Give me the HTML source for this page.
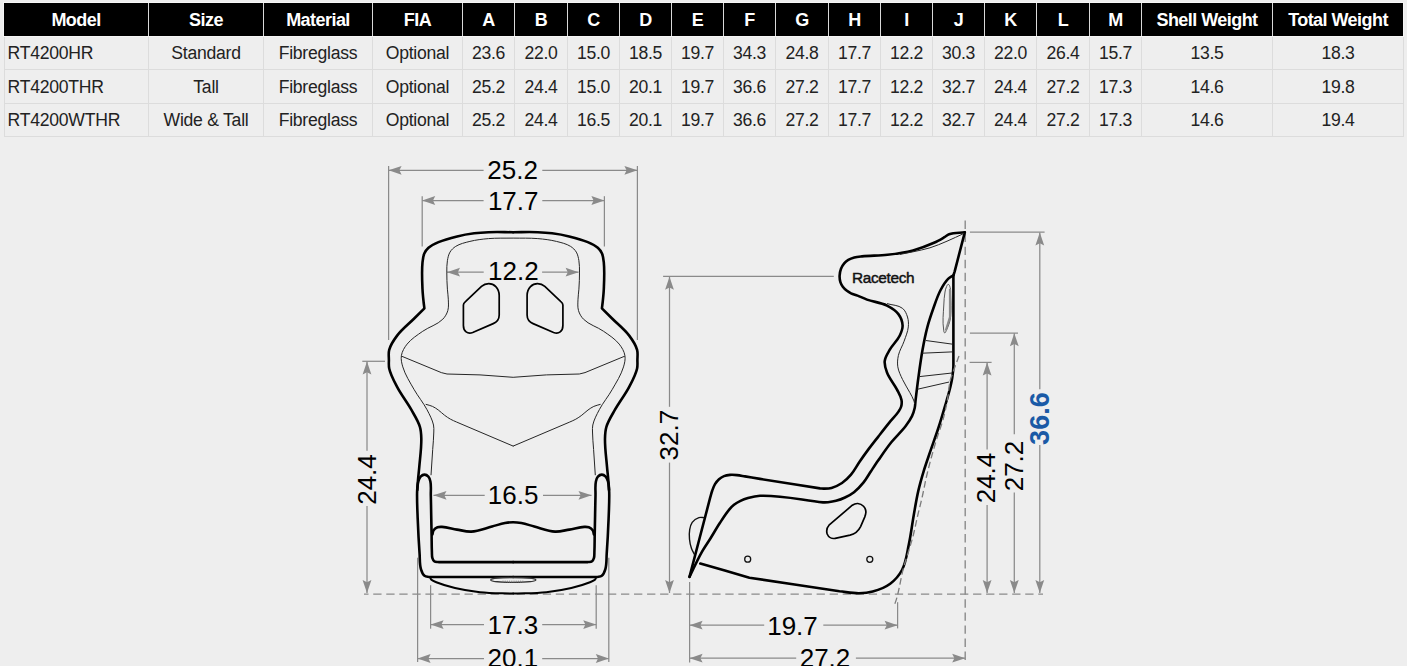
<!DOCTYPE html>
<html><head><meta charset="utf-8"><title>RT4200 Seat Dimensions</title>
<style>
html,body{margin:0;padding:0;}
body{width:1407px;height:666px;background:#eeeeee;position:relative;overflow:hidden;font-family:"Liberation Sans",sans-serif;}
.hb{position:absolute;background:#f6f6f6;}
.th{position:absolute;top:3px;height:33px;line-height:34px;text-align:center;color:#fff;font-weight:bold;font-size:18px;letter-spacing:-0.55px;white-space:nowrap;}
.td,.tdl{position:absolute;line-height:33px;text-align:center;color:#222;font-size:17.6px;letter-spacing:-0.25px;white-space:nowrap;}
.tdl{text-align:left;padding-left:2.6px;box-sizing:border-box;}
.vl{position:absolute;width:1px;background:#dcdcdc;}
.hl{position:absolute;height:1px;background:#dcdcdc;}
.draw{position:absolute;left:0;top:0;}
</style></head><body>
<div class="hb" style="left:3px;top:2px;width:1401px;height:35px"></div><div style="position:absolute;left:4px;top:3px;width:1399px;height:33px;background:#000"></div><div class="th" style="left:4px;width:144px">Model</div><div class="th" style="left:149px;width:114px">Size</div><div class="vl" style="left:148px;top:3px;height:33px;background:#d9d9d9"></div><div class="th" style="left:264px;width:108px">Material</div><div class="vl" style="left:263px;top:3px;height:33px;background:#d9d9d9"></div><div class="th" style="left:373px;width:89px">FIA</div><div class="vl" style="left:372px;top:3px;height:33px;background:#d9d9d9"></div><div class="th" style="left:463px;width:51px">A</div><div class="vl" style="left:462px;top:3px;height:33px;background:#d9d9d9"></div><div class="th" style="left:515px;width:52px">B</div><div class="vl" style="left:514px;top:3px;height:33px;background:#d9d9d9"></div><div class="th" style="left:568px;width:51px">C</div><div class="vl" style="left:567px;top:3px;height:33px;background:#d9d9d9"></div><div class="th" style="left:620px;width:51px">D</div><div class="vl" style="left:619px;top:3px;height:33px;background:#d9d9d9"></div><div class="th" style="left:672px;width:51px">E</div><div class="vl" style="left:671px;top:3px;height:33px;background:#d9d9d9"></div><div class="th" style="left:724px;width:51px">F</div><div class="vl" style="left:723px;top:3px;height:33px;background:#d9d9d9"></div><div class="th" style="left:776px;width:52px">G</div><div class="vl" style="left:775px;top:3px;height:33px;background:#d9d9d9"></div><div class="th" style="left:829px;width:51px">H</div><div class="vl" style="left:828px;top:3px;height:33px;background:#d9d9d9"></div><div class="th" style="left:881px;width:51px">I</div><div class="vl" style="left:880px;top:3px;height:33px;background:#d9d9d9"></div><div class="th" style="left:933px;width:51px">J</div><div class="vl" style="left:932px;top:3px;height:33px;background:#d9d9d9"></div><div class="th" style="left:985px;width:51px">K</div><div class="vl" style="left:984px;top:3px;height:33px;background:#d9d9d9"></div><div class="th" style="left:1037px;width:52px">L</div><div class="vl" style="left:1036px;top:3px;height:33px;background:#d9d9d9"></div><div class="th" style="left:1090px;width:51px">M</div><div class="vl" style="left:1089px;top:3px;height:33px;background:#d9d9d9"></div><div class="th" style="left:1142px;width:130px">Shell Weight</div><div class="vl" style="left:1141px;top:3px;height:33px;background:#d9d9d9"></div><div class="th" style="left:1273px;width:130px">Total Weight</div><div class="vl" style="left:1272px;top:3px;height:33px;background:#d9d9d9"></div><div class="tdl" style="left:5px;top:37px;width:143px;height:32px">RT4200HR</div><div class="td" style="left:149px;top:37px;width:114px;height:32px">Standard</div><div class="td" style="left:264px;top:37px;width:108px;height:32px">Fibreglass</div><div class="td" style="left:373px;top:37px;width:89px;height:32px">Optional</div><div class="td" style="left:463px;top:37px;width:51px;height:32px">23.6</div><div class="td" style="left:515px;top:37px;width:52px;height:32px">22.0</div><div class="td" style="left:568px;top:37px;width:51px;height:32px">15.0</div><div class="td" style="left:620px;top:37px;width:51px;height:32px">18.5</div><div class="td" style="left:672px;top:37px;width:51px;height:32px">19.7</div><div class="td" style="left:724px;top:37px;width:51px;height:32px">34.3</div><div class="td" style="left:776px;top:37px;width:52px;height:32px">24.8</div><div class="td" style="left:829px;top:37px;width:51px;height:32px">17.7</div><div class="td" style="left:881px;top:37px;width:51px;height:32px">12.2</div><div class="td" style="left:933px;top:37px;width:51px;height:32px">30.3</div><div class="td" style="left:985px;top:37px;width:51px;height:32px">22.0</div><div class="td" style="left:1037px;top:37px;width:52px;height:32px">26.4</div><div class="td" style="left:1090px;top:37px;width:51px;height:32px">15.7</div><div class="td" style="left:1142px;top:37px;width:130px;height:32px">13.5</div><div class="td" style="left:1273px;top:37px;width:130px;height:32px">18.3</div><div class="tdl" style="left:5px;top:71px;width:143px;height:33px">RT4200THR</div><div class="td" style="left:149px;top:71px;width:114px;height:33px">Tall</div><div class="td" style="left:264px;top:71px;width:108px;height:33px">Fibreglass</div><div class="td" style="left:373px;top:71px;width:89px;height:33px">Optional</div><div class="td" style="left:463px;top:71px;width:51px;height:33px">25.2</div><div class="td" style="left:515px;top:71px;width:52px;height:33px">24.4</div><div class="td" style="left:568px;top:71px;width:51px;height:33px">15.0</div><div class="td" style="left:620px;top:71px;width:51px;height:33px">20.1</div><div class="td" style="left:672px;top:71px;width:51px;height:33px">19.7</div><div class="td" style="left:724px;top:71px;width:51px;height:33px">36.6</div><div class="td" style="left:776px;top:71px;width:52px;height:33px">27.2</div><div class="td" style="left:829px;top:71px;width:51px;height:33px">17.7</div><div class="td" style="left:881px;top:71px;width:51px;height:33px">12.2</div><div class="td" style="left:933px;top:71px;width:51px;height:33px">32.7</div><div class="td" style="left:985px;top:71px;width:51px;height:33px">24.4</div><div class="td" style="left:1037px;top:71px;width:52px;height:33px">27.2</div><div class="td" style="left:1090px;top:71px;width:51px;height:33px">17.3</div><div class="td" style="left:1142px;top:71px;width:130px;height:33px">14.6</div><div class="td" style="left:1273px;top:71px;width:130px;height:33px">19.8</div><div class="tdl" style="left:5px;top:104px;width:143px;height:32px">RT4200WTHR</div><div class="td" style="left:149px;top:104px;width:114px;height:32px">Wide &amp; Tall</div><div class="td" style="left:264px;top:104px;width:108px;height:32px">Fibreglass</div><div class="td" style="left:373px;top:104px;width:89px;height:32px">Optional</div><div class="td" style="left:463px;top:104px;width:51px;height:32px">25.2</div><div class="td" style="left:515px;top:104px;width:52px;height:32px">24.4</div><div class="td" style="left:568px;top:104px;width:51px;height:32px">16.5</div><div class="td" style="left:620px;top:104px;width:51px;height:32px">20.1</div><div class="td" style="left:672px;top:104px;width:51px;height:32px">19.7</div><div class="td" style="left:724px;top:104px;width:51px;height:32px">36.6</div><div class="td" style="left:776px;top:104px;width:52px;height:32px">27.2</div><div class="td" style="left:829px;top:104px;width:51px;height:32px">17.7</div><div class="td" style="left:881px;top:104px;width:51px;height:32px">12.2</div><div class="td" style="left:933px;top:104px;width:51px;height:32px">32.7</div><div class="td" style="left:985px;top:104px;width:51px;height:32px">24.4</div><div class="td" style="left:1037px;top:104px;width:52px;height:32px">27.2</div><div class="td" style="left:1090px;top:104px;width:51px;height:32px">17.3</div><div class="td" style="left:1142px;top:104px;width:130px;height:32px">14.6</div><div class="td" style="left:1273px;top:104px;width:130px;height:32px">19.4</div><div class="vl" style="left:4px;top:37px;height:100px"></div><div class="vl" style="left:148px;top:37px;height:100px"></div><div class="vl" style="left:263px;top:37px;height:100px"></div><div class="vl" style="left:372px;top:37px;height:100px"></div><div class="vl" style="left:462px;top:37px;height:100px"></div><div class="vl" style="left:514px;top:37px;height:100px"></div><div class="vl" style="left:567px;top:37px;height:100px"></div><div class="vl" style="left:619px;top:37px;height:100px"></div><div class="vl" style="left:671px;top:37px;height:100px"></div><div class="vl" style="left:723px;top:37px;height:100px"></div><div class="vl" style="left:775px;top:37px;height:100px"></div><div class="vl" style="left:828px;top:37px;height:100px"></div><div class="vl" style="left:880px;top:37px;height:100px"></div><div class="vl" style="left:932px;top:37px;height:100px"></div><div class="vl" style="left:984px;top:37px;height:100px"></div><div class="vl" style="left:1036px;top:37px;height:100px"></div><div class="vl" style="left:1089px;top:37px;height:100px"></div><div class="vl" style="left:1141px;top:37px;height:100px"></div><div class="vl" style="left:1272px;top:37px;height:100px"></div><div class="vl" style="left:1403px;top:37px;height:100px"></div><div class="hl" style="left:4px;top:69px;width:1400px"></div><div class="hl" style="left:4px;top:103px;width:1400px"></div><div class="hl" style="left:4px;top:136px;width:1400px"></div>
<svg class="draw" width="1407" height="666" viewBox="0 0 1407 666" font-family="Liberation Sans, sans-serif"><line x1="388.6" y1="166" x2="388.6" y2="340" stroke="#8a8a8a" stroke-width="1.25" /><line x1="637.4" y1="166" x2="637.4" y2="340" stroke="#8a8a8a" stroke-width="1.25" /><line x1="388.6" y1="170.3" x2="483.6" y2="170.3" stroke="#8a8a8a" stroke-width="1.25" /><line x1="542.3" y1="170.3" x2="637.4" y2="170.3" stroke="#8a8a8a" stroke-width="1.25" /><path d="M388.6 170.3 L401.6 165.9 L399.4 170.3 L401.6 174.7Z" fill="#8a8a8a"/><path d="M637.4 170.3 L624.4 165.9 L626.6 170.3 L624.4 174.7Z" fill="#8a8a8a"/><line x1="422.2" y1="196.2" x2="422.2" y2="246.5" stroke="#8a8a8a" stroke-width="1.25" /><line x1="604.4" y1="196.2" x2="604.4" y2="246.5" stroke="#8a8a8a" stroke-width="1.25" /><line x1="422.2" y1="200.5" x2="483.6" y2="200.5" stroke="#8a8a8a" stroke-width="1.25" /><line x1="542.3" y1="200.5" x2="604.4" y2="200.5" stroke="#8a8a8a" stroke-width="1.25" /><path d="M422.2 200.5 L435.2 196.1 L433 200.5 L435.2 204.9Z" fill="#8a8a8a"/><path d="M604.4 200.5 L591.4 196.1 L593.6 200.5 L591.4 204.9Z" fill="#8a8a8a"/><line x1="447" y1="272.2" x2="483.7" y2="272.2" stroke="#8a8a8a" stroke-width="1.25" /><line x1="542.1" y1="272.2" x2="578.6" y2="272.2" stroke="#8a8a8a" stroke-width="1.25" /><path d="M447 272.2 L460 267.8 L457.8 272.2 L460 276.6Z" fill="#8a8a8a"/><path d="M578.6 272.2 L565.6 267.8 L567.8 272.2 L565.6 276.6Z" fill="#8a8a8a"/><line x1="433.5" y1="495.3" x2="484.7" y2="495.3" stroke="#8a8a8a" stroke-width="1.25" /><line x1="543" y1="495.3" x2="591.5" y2="495.3" stroke="#8a8a8a" stroke-width="1.25" /><path d="M433.5 495.3 L446.5 490.9 L444.3 495.3 L446.5 499.7Z" fill="#8a8a8a"/><path d="M591.5 495.3 L578.5 490.9 L580.7 495.3 L578.5 499.7Z" fill="#8a8a8a"/><line x1="362.3" y1="361.3" x2="385" y2="361.3" stroke="#8a8a8a" stroke-width="1.25" /><line x1="367" y1="361.5" x2="367" y2="450.7" stroke="#8a8a8a" stroke-width="1.25" /><line x1="367" y1="505.9" x2="367" y2="593" stroke="#8a8a8a" stroke-width="1.25" /><path d="M367 361.5 L362.6 374.5 L367 372.3 L371.4 374.5Z" fill="#8a8a8a"/><path d="M367 593 L362.6 580 L367 582.2 L371.4 580Z" fill="#8a8a8a"/><line x1="430.6" y1="585.2" x2="430.6" y2="628.7" stroke="#8a8a8a" stroke-width="1.25" /><line x1="596.2" y1="585.2" x2="596.2" y2="628.7" stroke="#8a8a8a" stroke-width="1.25" /><line x1="430.6" y1="624.6" x2="484" y2="624.6" stroke="#8a8a8a" stroke-width="1.25" /><line x1="542.2" y1="624.6" x2="596.2" y2="624.6" stroke="#8a8a8a" stroke-width="1.25" /><path d="M430.6 624.6 L443.6 620.2 L441.4 624.6 L443.6 629Z" fill="#8a8a8a"/><path d="M596.2 624.6 L583.2 620.2 L585.4 624.6 L583.2 629Z" fill="#8a8a8a"/><line x1="417.6" y1="557.7" x2="417.6" y2="662" stroke="#8a8a8a" stroke-width="1.25" /><line x1="608.8" y1="557.7" x2="608.8" y2="662" stroke="#8a8a8a" stroke-width="1.25" /><line x1="417.6" y1="658.5" x2="484" y2="658.5" stroke="#8a8a8a" stroke-width="1.25" /><line x1="542.2" y1="658.5" x2="608.8" y2="658.5" stroke="#8a8a8a" stroke-width="1.25" /><path d="M417.6 658.5 L430.6 654.1 L428.4 658.5 L430.6 662.9Z" fill="#8a8a8a"/><path d="M608.8 658.5 L595.8 654.1 L598 658.5 L595.8 662.9Z" fill="#8a8a8a"/><line x1="663.1" y1="276.4" x2="833.8" y2="276.4" stroke="#8a8a8a" stroke-width="1.25" /><line x1="669.5" y1="276.7" x2="669.5" y2="406.8" stroke="#8a8a8a" stroke-width="1.25" /><line x1="669.5" y1="462.6" x2="669.5" y2="593" stroke="#8a8a8a" stroke-width="1.25" /><path d="M669.5 276.7 L665.1 289.7 L669.5 287.5 L673.9 289.7Z" fill="#8a8a8a"/><path d="M669.5 593 L665.1 580 L669.5 582.2 L673.9 580Z" fill="#8a8a8a"/><line x1="689.6" y1="582" x2="689.6" y2="662.5" stroke="#8a8a8a" stroke-width="1.25" /><line x1="897.6" y1="602.2" x2="897.6" y2="628.4" stroke="#8a8a8a" stroke-width="1.25" /><line x1="689.6" y1="625.2" x2="764.2" y2="625.2" stroke="#8a8a8a" stroke-width="1.25" /><line x1="823.3" y1="625.2" x2="897.6" y2="625.2" stroke="#8a8a8a" stroke-width="1.25" /><path d="M689.6 625.2 L702.6 620.8 L700.4 625.2 L702.6 629.6Z" fill="#8a8a8a"/><path d="M897.6 625.2 L884.6 620.8 L886.8 625.2 L884.6 629.6Z" fill="#8a8a8a"/><line x1="689.6" y1="658.2" x2="796.2" y2="658.2" stroke="#8a8a8a" stroke-width="1.25" /><line x1="855.9" y1="658.2" x2="965.2" y2="658.2" stroke="#8a8a8a" stroke-width="1.25" /><path d="M689.6 658.2 L702.6 653.8 L700.4 658.2 L702.6 662.6Z" fill="#8a8a8a"/><path d="M965.2 658.2 L952.2 653.8 L954.4 658.2 L952.2 662.6Z" fill="#8a8a8a"/><line x1="969.9" y1="232.2" x2="1044.6" y2="232.2" stroke="#8a8a8a" stroke-width="1.25" /><line x1="969.9" y1="333" x2="1018" y2="333" stroke="#8a8a8a" stroke-width="1.25" /><line x1="969.6" y1="362.4" x2="991.6" y2="362.4" stroke="#8a8a8a" stroke-width="1.25" /><line x1="1039.8" y1="232.4" x2="1039.8" y2="389.2" stroke="#8a8a8a" stroke-width="1.25" /><line x1="1039.8" y1="445" x2="1039.8" y2="593" stroke="#8a8a8a" stroke-width="1.25" /><path d="M1039.8 232.4 L1035.4 245.4 L1039.8 243.2 L1044.2 245.4Z" fill="#8a8a8a"/><path d="M1039.8 593 L1035.4 580 L1039.8 582.2 L1044.2 580Z" fill="#8a8a8a"/><line x1="1014.3" y1="333.2" x2="1014.3" y2="434.2" stroke="#8a8a8a" stroke-width="1.25" /><line x1="1014.3" y1="492.4" x2="1014.3" y2="593" stroke="#8a8a8a" stroke-width="1.25" /><path d="M1014.3 333.2 L1009.9 346.2 L1014.3 344 L1018.7 346.2Z" fill="#8a8a8a"/><path d="M1014.3 593 L1009.9 580 L1014.3 582.2 L1018.7 580Z" fill="#8a8a8a"/><line x1="987.1" y1="362.6" x2="987.1" y2="449.5" stroke="#8a8a8a" stroke-width="1.25" /><line x1="987.1" y1="505.1" x2="987.1" y2="593" stroke="#8a8a8a" stroke-width="1.25" /><path d="M987.1 362.6 L982.7 375.6 L987.1 373.4 L991.5 375.6Z" fill="#8a8a8a"/><path d="M987.1 593 L982.7 580 L987.1 582.2 L991.5 580Z" fill="#8a8a8a"/><line x1="364" y1="594.1" x2="1043" y2="594.1" stroke="#8a8a8a" stroke-width="1.4" stroke-dasharray="8.3 4.74" stroke-dashoffset="3.8"/><line x1="965.2" y1="220.6" x2="965.2" y2="662" stroke="#8a8a8a" stroke-width="1.4" stroke-dasharray="8.4 4.66"/><g fill="none" stroke="#000" stroke-width="2.6" stroke-linejoin="round" stroke-linecap="round"><path d="M513.15 232.2C504.93 232.2 496.71 231.88 488.5 232.2C483.72 232.38 478.94 232.69 474.2 233.3C468.45 234.04 462.73 235.03 457.1 236.4C450.8 237.93 444.45 239.53 438.5 242.1C434.98 243.62 431.37 245.25 428.5 247.8C426.74 249.37 425.26 251.34 424.3 253.5C423.08 256.24 422.8 259.32 422.5 262.3C421.6 271.22 422.12 280.24 422.5 289.2C422.68 293.48 423.15 297.74 423.6 302C423.82 304.1 424.13 306.2 424.4 308.3C421 311.7 417.6 315.1 414.2 318.5C408.5 324.2 401.96 329.17 397.1 335.6C393.84 339.92 390.64 344.58 389.2 349.8C388.3 353.08 388.89 356.6 388.9 360C388.91 362.84 388.58 365.73 389.2 368.5C390.66 375.01 394.01 380.98 397.1 386.9C401.24 394.84 406.92 401.89 411.3 409.7C414.42 415.26 418.05 420.69 419.9 426.8C421 430.43 421.2 434.31 421.3 438.1C421.55 447.62 420.09 457.11 419.3 466.6C418.93 471.07 418.38 475.53 418 480C417.66 484 417.2 487.99 417.1 492C416.87 500.87 417.36 509.74 417.7 518.6C418.15 530.34 418.76 542.08 419.6 553.8C419.97 559.01 419.48 564.4 421 569.4C421.71 571.73 422.57 574.32 424.5 575.8C425.83 576.82 427.77 576.6 429.4 577C457.32 577 485.23 577 513.15 577" /><path d="M417.3 490C417.63 487.17 417.52 484.24 418.3 481.5C418.8 479.76 419.35 477.9 420.6 476.6C421.61 475.55 423.04 474.6 424.5 474.6C425.96 474.6 427.41 475.52 428.4 476.6C429.59 477.9 430.03 479.77 430.4 481.5C431.33 485.9 430.69 490.5 430.8 495C430.97 501.67 431.07 508.33 431.2 515C431.33 521.67 431.47 528.33 431.6 535C431.71 540.67 431.62 546.34 431.9 552C432 554.07 431.77 556.23 432.4 558.2C432.76 559.31 433.25 560.52 434.2 561.2C435.39 562.05 437.07 561.8 438.5 562.1C463.38 562.1 488.27 562.1 513.15 562.1" /><path d="M432.4 534.5C432.8 533.07 432.76 531.43 433.6 530.2C434.52 528.86 435.99 527.88 437.5 527.3C438.91 526.76 440.5 526.83 442 526.9C447.08 527.13 451.98 528.8 457 529.6C461.72 530.36 466.43 531.84 471.2 531.6C478.33 531.24 485.09 528.28 492 526.5C496.35 525.38 500.59 523.81 505 523C507.69 522.51 510.42 522.2 513.15 522.2C515.88 522.2 518.61 522.51 521.3 523C525.71 523.81 529.95 525.38 534.3 526.5C541.21 528.28 547.97 531.24 555.1 531.6C559.87 531.84 564.58 530.36 569.3 529.6C574.32 528.8 579.22 527.13 584.3 526.9C585.8 526.83 587.39 526.76 588.8 527.3C590.31 527.88 591.78 528.86 592.7 530.2C593.54 531.43 593.5 533.07 593.9 534.5" transform="translate(0,0)"/><path d="M465.7 301.3 L481.5 286.4 C485.5 282.8 492 282.6 495.8 286.6 C498.3 289.2 499.2 291.8 499.2 295.5 L499.2 315 C499.2 319.2 497 322 493.2 323.6 L472.7 332.5 C467.5 334.6 463.4 331.2 463.4 325.5 L463.4 305 C463.4 303.5 464.3 302.5 465.7 301.3 Z" stroke-width="1.7"/><path d="M430.2 577.5C430.6 578.27 430.78 579.2 431.4 579.8C432.7 581.07 434.61 581.53 436.3 582.2C442.37 584.61 448.65 586.49 455 588C463.22 589.96 471.6 591.32 480 592.2C491 593.35 502.1 593.13 513.15 593.6" stroke-width="2.0"/><g transform="translate(1026.3,0) scale(-1,1)"><path d="M513.15 232.2C504.93 232.2 496.71 231.88 488.5 232.2C483.72 232.38 478.94 232.69 474.2 233.3C468.45 234.04 462.73 235.03 457.1 236.4C450.8 237.93 444.45 239.53 438.5 242.1C434.98 243.62 431.37 245.25 428.5 247.8C426.74 249.37 425.26 251.34 424.3 253.5C423.08 256.24 422.8 259.32 422.5 262.3C421.6 271.22 422.12 280.24 422.5 289.2C422.68 293.48 423.15 297.74 423.6 302C423.82 304.1 424.13 306.2 424.4 308.3C421 311.7 417.6 315.1 414.2 318.5C408.5 324.2 401.96 329.17 397.1 335.6C393.84 339.92 390.64 344.58 389.2 349.8C388.3 353.08 388.89 356.6 388.9 360C388.91 362.84 388.58 365.73 389.2 368.5C390.66 375.01 394.01 380.98 397.1 386.9C401.24 394.84 406.92 401.89 411.3 409.7C414.42 415.26 418.05 420.69 419.9 426.8C421 430.43 421.2 434.31 421.3 438.1C421.55 447.62 420.09 457.11 419.3 466.6C418.93 471.07 418.38 475.53 418 480C417.66 484 417.2 487.99 417.1 492C416.87 500.87 417.36 509.74 417.7 518.6C418.15 530.34 418.76 542.08 419.6 553.8C419.97 559.01 419.48 564.4 421 569.4C421.71 571.73 422.57 574.32 424.5 575.8C425.83 576.82 427.77 576.6 429.4 577C457.32 577 485.23 577 513.15 577" /><path d="M417.3 490C417.63 487.17 417.52 484.24 418.3 481.5C418.8 479.76 419.35 477.9 420.6 476.6C421.61 475.55 423.04 474.6 424.5 474.6C425.96 474.6 427.41 475.52 428.4 476.6C429.59 477.9 430.03 479.77 430.4 481.5C431.33 485.9 430.69 490.5 430.8 495C430.97 501.67 431.07 508.33 431.2 515C431.33 521.67 431.47 528.33 431.6 535C431.71 540.67 431.62 546.34 431.9 552C432 554.07 431.77 556.23 432.4 558.2C432.76 559.31 433.25 560.52 434.2 561.2C435.39 562.05 437.07 561.8 438.5 562.1C463.38 562.1 488.27 562.1 513.15 562.1" /><path d="M465.7 301.3 L481.5 286.4 C485.5 282.8 492 282.6 495.8 286.6 C498.3 289.2 499.2 291.8 499.2 295.5 L499.2 315 C499.2 319.2 497 322 493.2 323.6 L472.7 332.5 C467.5 334.6 463.4 331.2 463.4 325.5 L463.4 305 C463.4 303.5 464.3 302.5 465.7 301.3 Z" stroke-width="1.7"/><path d="M430.2 577.5C430.6 578.27 430.78 579.2 431.4 579.8C432.7 581.07 434.61 581.53 436.3 582.2C442.37 584.61 448.65 586.49 455 588C463.22 589.96 471.6 591.32 480 592.2C491 593.35 502.1 593.13 513.15 593.6" stroke-width="2.0"/></g></g><g fill="none" stroke="#262626" stroke-width="1.0"><path d="M513.15 238.1C504.93 238.27 496.69 237.9 488.5 238.6C482.25 239.13 475.98 239.89 469.9 241.4C465.03 242.61 459.95 243.73 455.7 246.4C453.43 247.83 451.38 249.79 450 252.1C448.46 254.67 447.92 257.75 447.4 260.7C446.74 264.45 446.83 268.29 446.8 272.1C446.75 277.8 447.04 283.51 447.4 289.2C447.61 292.54 448.22 295.85 448.3 299.2C448.39 303 448.87 306.95 447.8 310.6C446.87 313.78 445.13 316.84 442.8 319.2C437.31 324.77 429.09 326.79 422.7 331.3C417.2 335.18 411.3 338.84 407.1 344.1C404.45 347.42 402.12 351.31 401.4 355.5C400.75 359.27 401.69 363.23 402.8 366.9C405.25 375.04 410 382.31 414.2 389.7C418.11 396.58 423.31 402.7 427 409.7C429.59 414.6 432.28 419.6 433.5 425C434.01 427.28 433.82 429.66 433.8 432C433.74 437.84 433.08 443.67 432.7 449.5C432.15 458.07 431.57 466.63 431 475.2" /><path d="M401.4 356.1 L441.3 372.6 L447 374 L480 374.9 L513.15 377.3" /><path d="M425.7 404.3C427.97 405 430.34 405.42 432.5 406.4C434.57 407.34 436.46 408.67 438.3 410C440.48 411.58 442.34 413.58 444.5 415.2C446.42 416.64 448.4 418.02 450.5 419.2C452.42 420.28 454.5 421.07 456.5 422 L513.4 446.2" /><g transform="translate(1026.3,0) scale(-1,1)"><path d="M513.15 238.1C504.93 238.27 496.69 237.9 488.5 238.6C482.25 239.13 475.98 239.89 469.9 241.4C465.03 242.61 459.95 243.73 455.7 246.4C453.43 247.83 451.38 249.79 450 252.1C448.46 254.67 447.92 257.75 447.4 260.7C446.74 264.45 446.83 268.29 446.8 272.1C446.75 277.8 447.04 283.51 447.4 289.2C447.61 292.54 448.22 295.85 448.3 299.2C448.39 303 448.87 306.95 447.8 310.6C446.87 313.78 445.13 316.84 442.8 319.2C437.31 324.77 429.09 326.79 422.7 331.3C417.2 335.18 411.3 338.84 407.1 344.1C404.45 347.42 402.12 351.31 401.4 355.5C400.75 359.27 401.69 363.23 402.8 366.9C405.25 375.04 410 382.31 414.2 389.7C418.11 396.58 423.31 402.7 427 409.7C429.59 414.6 432.28 419.6 433.5 425C434.01 427.28 433.82 429.66 433.8 432C433.74 437.84 433.08 443.67 432.7 449.5C432.15 458.07 431.57 466.63 431 475.2" /><path d="M401.4 356.1 L441.3 372.6 L447 374 L480 374.9 L513.15 377.3" /><path d="M425.7 404.3C427.97 405 430.34 405.42 432.5 406.4C434.57 407.34 436.46 408.67 438.3 410C440.48 411.58 442.34 413.58 444.5 415.2C446.42 416.64 448.4 418.02 450.5 419.2C452.42 420.28 454.5 421.07 456.5 422 L513.4 446.2" /></g></g><ellipse cx="513.3" cy="579.9" rx="22.6" ry="2.5" fill="none" stroke="#333" stroke-width="1.1"/><path d="M503.0 580.6 L503.0 582.6 M505.2 580.6 L505.2 582.6 M507.4 580.6 L507.4 582.6 M509.6 580.6 L509.6 582.6 M511.8 580.6 L511.8 582.6 M514.0 580.6 L514.0 582.6 M516.2 580.6 L516.2 582.6 M518.4 580.6 L518.4 582.6 M520.6 580.6 L520.6 582.6 M522.8 580.6 L522.8 582.6 " stroke="#777" stroke-width="0.8"/><g fill="none" stroke="#000" stroke-width="2.6" stroke-linejoin="round" stroke-linecap="round"><path d="M964.8 232.3C959.57 232.97 954.07 232.54 949.1 234.3C947.36 234.91 945.99 236.28 944.4 237.2C940.99 239.17 937.59 241.19 934 242.8C927.2 245.84 920.2 248.49 913 250.4C904.66 252.61 896.07 253.8 887.5 254.8C879.04 255.79 870.47 255.53 862 256.4C859.42 256.66 856.8 256.83 854.3 257.5C852.22 258.06 850.15 258.8 848.3 259.9C846.77 260.81 845.35 261.95 844.2 263.3C842.83 264.92 841.75 266.82 841 268.8C840.16 271.03 839.69 273.42 839.6 275.8C839.52 277.95 839.76 280.15 840.4 282.2C840.92 283.85 841.78 285.41 842.8 286.8C843.86 288.24 845.19 289.49 846.6 290.6C847.95 291.67 849.45 292.56 851 293.3C853.07 294.29 855.36 294.77 857.5 295.6C860.7 296.84 863.77 298.44 867 299.6C873.55 301.95 880.78 302.47 887 305.6C891.23 307.73 895.56 310.3 898.4 314.1C900.82 317.34 902.44 321.45 902.6 325.5C902.74 328.96 901.28 332.37 899.8 335.5C897.32 340.73 892.66 344.67 889.8 349.7C887.74 353.32 885.16 356.96 884.7 361.1C884.27 364.95 885.62 368.88 887 372.5C889.35 378.67 894.02 383.71 897 389.6C898.71 392.97 900.82 396.28 901.5 400C901.89 402.13 901.77 404.41 901.2 406.5C900.69 408.36 899.57 410 898.5 411.6C895.89 415.49 892.45 418.76 889.5 422.4C885.7 427.08 882.01 431.85 878.3 436.6C874.98 440.85 871.62 445.07 868.4 449.4C865.32 453.54 862.33 457.75 859.4 462C856.53 466.15 854.27 470.75 851 474.6C848.34 477.73 845.4 480.7 842 483C838.8 485.16 835.23 486.89 831.5 487.9C829.08 488.56 826.51 488.55 824 488.6C822.67 488.63 821.33 488.47 820 488.4C800 485.23 779.99 482.15 760 478.9C755 478.09 750 477.22 745 476.4C742.33 475.96 739.69 475.36 737 475.1C734.68 474.88 732.33 474.7 730 474.9C727.97 475.07 725.9 475.35 724 476.1C722.18 476.82 720.47 477.9 719 479.2C717.4 480.62 716.1 482.37 715 484.2C713.79 486.22 713 488.48 712.2 490.7C711.44 492.82 710.93 495.03 710.3 497.2C703.37 523.73 696.43 550.27 689.5 576.8"/><path d="M964.8 232.3 L954.7 271.3 L953.4 275.5 L953.4 366 C953.4 370.02 952.83 374.03 952.2 378C951.56 382.04 950.59 386.03 949.6 390C948.59 394.03 947.36 398.01 946.2 402C943.76 410.35 941.37 418.72 938.7 427C935.97 435.46 932.86 443.78 930 452.2C927.87 458.49 925.62 464.74 923.7 471.1C921.72 477.65 919.83 484.23 918.3 490.9C916.44 499 915.15 507.22 913.7 515.4C911.97 525.12 910.9 534.96 908.8 544.6C906.94 553.17 906.1 562.25 902 570C899.18 575.33 895.04 580.1 890.2 583.7C885.08 587.51 878.85 589.79 872.7 591.5C868.27 592.73 863.6 593.14 859 593.2C852.47 593.29 846 591.93 839.5 591.3C809.47 586.77 779.43 582.23 749.4 577.7C733.03 572.97 716.67 568.23 700.3 563.5"/><path d="M953.4 275.3C951.63 276.47 949.6 277.31 948.1 278.8C944.91 281.97 942.69 286.02 940.6 290C937.52 295.87 935.53 302.26 933.3 308.5C931.09 314.7 928.98 320.94 927.3 327.3C925.32 334.78 923.87 342.39 922.5 350C920.82 359.35 919.58 368.78 918.3 378.2C917.31 385.46 916.46 392.73 915.6 400C915.29 402.66 915.28 405.38 914.7 408C914.09 410.78 913.22 413.53 912 416.1C910.32 419.63 908.05 422.87 905.7 426C901.34 431.79 895.83 436.64 891.3 442.3C886.75 447.99 882.66 454.02 878.5 460C875.86 463.79 873.35 467.66 870.8 471.5C868.39 475.13 866.34 479.01 863.6 482.4C860.73 485.96 857.6 489.38 854 492.2C851.26 494.35 848.15 496.01 845 497.5C842.11 498.87 839.09 499.97 836 500.8C833.39 501.5 830.69 501.91 828 502.2C826.34 502.38 824.67 502.33 823 502.4C802 500.2 781.1 494.99 760 495.8C755.94 495.96 751.92 496.92 748 498C745.43 498.71 742.9 499.63 740.5 500.8C738.21 501.92 736 503.22 734 504.8C732.37 506.09 730.94 507.61 729.6 509.2C726.03 513.44 723.05 518.16 720 522.8C716.63 527.93 713.64 533.29 710.4 538.5C707.47 543.22 704.22 547.75 701.5 552.6C697.09 560.45 693.5 568.73 689.5 576.8"/><path d="M829 525.2 L852.3 505.2 C854.3 503.8 856 503.4 857.8 503.5 C862.2 503.8 866 507.6 865.9 512.3 C865.8 514 865.3 515.6 864.7 517.1 L860.6 526.6 C858.5 530.8 854.6 534.1 850 535.2 L835.2 538.3 C831.6 539 828.4 537.1 827.2 534 C826.3 531 827 527.4 829 525.2 Z" stroke-width="1.7"/></g><g fill="none" stroke="#262626" stroke-width="1.0"><path d="M964 233.4C958.33 236 952.74 238.77 947 241.2C941.4 243.57 935.81 246 930 247.8C924.44 249.52 918.69 250.56 913 251.8C908.68 252.74 904.33 253.53 900 254.4"/><path d="M887 303.6C892.2 305.2 898.35 305 902.6 308.4C905.17 310.46 906.53 313.85 907.5 317C908.48 320.16 908.64 323.61 908.3 326.9C907.79 331.84 905.73 336.51 904.1 341.2C902.43 346.02 899.5 350.42 898.4 355.4C897.58 359.12 897.22 363.04 897.8 366.8C898.49 371.3 900.68 375.47 902.6 379.6C904.67 384.07 907.51 388.14 909.8 392.5C911.27 395.3 912.98 398.01 914 401C914.33 401.97 914.4 403 914.6 404"/><path d="M925.8 340.5 L952 344.1"/><path d="M922.2 353.2 L952 351.9"/><path d="M919.5 376.6 L952 373"/><path d="M917.7 389.2 L949.2 382"/><path d="M948.3 284.4C949.49 284.49 949.74 286.36 950.1 287.5C950.85 289.89 950.6 292.49 950.7 295C950.98 301.99 951.33 309.03 950.7 316C950.52 318.02 950.15 320.04 949.6 322C948.77 324.92 947.73 327.82 946.3 330.5C945.86 331.32 945.63 332.92 944.7 332.8C943.72 332.67 943.87 330.98 943.7 330C942.29 321.79 943.4 313.32 943.8 305C944.01 300.65 944.19 296.28 945 292C945.36 290.12 945.72 288.19 946.6 286.5C947.02 285.7 947.4 284.33 948.3 284.4Z" stroke="#555"/><path d="M950 289 L950 317 L945.8 330.5" stroke="#8a8a8a" stroke-width="2.2" stroke-linejoin="round"/><path d="M704.3 517.6C702.5 517.6 700.62 517.06 698.9 517.6C696.3 518.42 693.83 520.12 692.2 522.3C690.64 524.38 690.15 527.14 689.7 529.7C689.15 532.82 689.2 536.05 689.5 539.2C689.8 542.39 690.43 545.58 691.5 548.6C692.26 550.75 693.57 552.67 694.6 554.7" stroke="#111" stroke-width="1.4"/></g><path d="M959 355.9C957.23 360.7 955.43 365.49 953.7 370.3C952.54 373.52 951.12 376.67 950.3 380C948.7 386.54 948.61 393.37 947.4 400C946.23 406.38 944.91 412.74 943.2 419C941.45 425.43 938.96 431.63 937 438C934.96 444.63 933.02 451.3 931.2 458C929.49 464.3 927.87 470.64 926.4 477C924.87 483.64 923.7 490.36 922.2 497C920.76 503.36 919.08 509.65 917.6 516C916.08 522.49 914.86 529.05 913.2 535.5C911.77 541.05 910.05 546.51 908.4 552C906.84 557.18 904.99 562.27 903.6 567.5C900.85 577.8 899.51 588.45 896.6 598.7C896.04 600.67 895.27 602.57 894.6 604.5" fill="none" stroke="#7c7c7c" stroke-width="1.3" stroke-dasharray="6.5 3.5"/><circle cx="747.7" cy="559.2" r="3" fill="none" stroke="#111" stroke-width="1.3"/><circle cx="869.8" cy="559.3" r="3" fill="none" stroke="#111" stroke-width="1.3"/><text x="512.6" y="179.3" text-anchor="middle" font-size="26" fill="#000" font-weight="normal">25.2</text><text x="513.2" y="209.9" text-anchor="middle" font-size="26" fill="#000" font-weight="normal">17.7</text><text x="513.4" y="280.1" text-anchor="middle" font-size="26" fill="#000" font-weight="normal">12.2</text><text x="513.1" y="503.8" text-anchor="middle" font-size="26" fill="#000" font-weight="normal">16.5</text><text x="512.8" y="633.6" text-anchor="middle" font-size="26" fill="#000" font-weight="normal">17.3</text><text x="512.8" y="667" text-anchor="middle" font-size="26" fill="#000" font-weight="normal">20.1</text><text x="792.5" y="634.8" text-anchor="middle" font-size="26" fill="#000" font-weight="normal">19.7</text><text x="825" y="666.5" text-anchor="middle" font-size="26" fill="#000" font-weight="normal">27.2</text><text x="366.5" y="479.5" text-anchor="middle" dominant-baseline="central" font-size="26" fill="#000" font-weight="normal" transform="rotate(-90 366.5 479.5)">24.4</text><text x="669.5" y="435.2" text-anchor="middle" dominant-baseline="central" font-size="26" fill="#000" font-weight="normal" transform="rotate(-90 669.5 435.2)">32.7</text><text x="986.2" y="478" text-anchor="middle" dominant-baseline="central" font-size="26" fill="#000" font-weight="normal" transform="rotate(-90 986.2 478)">24.4</text><text x="1014.2" y="466" text-anchor="middle" dominant-baseline="central" font-size="26" fill="#000" font-weight="normal" transform="rotate(-90 1014.2 466)">27.2</text><text x="1040" y="418.6" text-anchor="middle" dominant-baseline="central" font-size="27" fill="#1a5aa6" font-weight="bold" transform="rotate(-90 1040 418.6)">36.6</text><text x="883.1" y="282.7" text-anchor="middle" font-size="15.4" letter-spacing="-0.35" fill="#111" stroke="#111" stroke-width="0.45">Racetech</text></svg>
</body></html>
